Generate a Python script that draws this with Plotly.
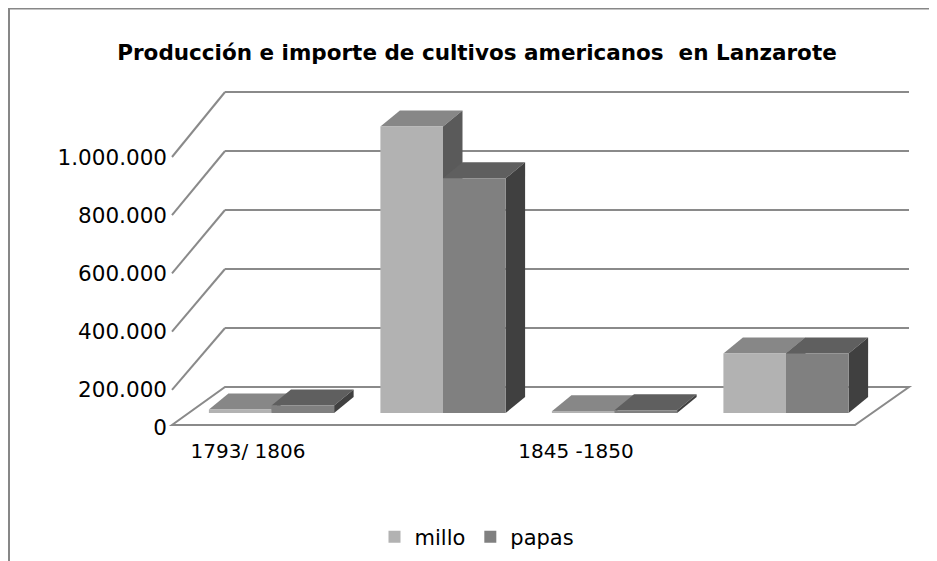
import plotly.graph_objects as go

# ---------------- data ----------------
categories = ["1793/ 1806", "", "1845 -1850", ""]
millo = [12000, 965000, 6000, 200000]
papas = [25000, 790000, 9000, 200000]
y_ticks = [0, 200000, 400000, 600000, 800000, 1000000]
title_text = "Producción e importe de cultivos americanos  en Lanzarote"

# ---------------- layout geometry (window pixels) ----------------
W, H = 937, 561
OFF = 8                                        # page body margin
XL, XR, YT, YB = 150, 930, 30, 470            # plot area
KX, X0PX = 171.5, 271.5                       # px per category, centre of cat 0
KY, Y0PX = 297e-6, 413                        # px per unit, baseline of bars
DX, DY = 19.5, 16                             # bar depth (px)
BACK_L, BACK_R, BACK_0, BACK_K = 225, 909, 387, 295e-6
FRONT_L, FRONT_R, FRONT_0 = 172, 855, 425
LBL_0, LBL_K = 448, 291e-6                    # left-edge label scale
BARW = 0.365

GRID = "#8a8a8a"
C_MILLO = ["#b2b2b2", "#878787", "#5a5a5a"]   # front, top, side
C_PAPAS = ["#808080", "#5f5f5f", "#404040"]
FONT = "DejaVu Sans"


def px_x(px):
    return (px - X0PX) / KX


def px_y(py):
    return (Y0PX - py) / KY


def fx(px):
    return (px - OFF) / W


def fy(py):
    return 1 - (py - OFF) / H


fig = go.Figure()
fig.add_trace(go.Bar(name="millo", x=list(range(len(categories))), y=millo,
                     marker=dict(color=C_MILLO[0], line=dict(width=0))))
fig.add_trace(go.Bar(name="papas", x=list(range(len(categories))), y=papas,
                     marker=dict(color=C_PAPAS[0], line=dict(width=0))))
fig.add_trace(go.Scatter(x=[None], y=[None], xaxis="x2", yaxis="y2",
                         showlegend=False, hoverinfo="skip"))

shapes = []
# floor
fl = [(FRONT_L, FRONT_0), (FRONT_R, FRONT_0), (BACK_R, BACK_0), (BACK_L, BACK_0)]
path = "M " + " L ".join(f"{px_x(a)},{px_y(b)}" for a, b in fl) + " Z"
shapes.append(dict(type="path", path=path, xref="x", yref="y", layer="below",
                   fillcolor="white", line=dict(color=GRID, width=2)))
# back wall gridlines + left wall lines
for v in y_ticks[1:]:
    yb = BACK_0 - BACK_K * v
    shapes.append(dict(type="line", xref="x", yref="y", layer="below",
                       x0=px_x(BACK_L), x1=px_x(BACK_R), y0=px_y(yb), y1=px_y(yb),
                       line=dict(color=GRID, width=2)))
    yf = LBL_0 - LBL_K * v
    shapes.append(dict(type="line", xref="x", yref="y", layer="below",
                       x0=px_x(FRONT_L), x1=px_x(BACK_L), y0=px_y(yf), y1=px_y(yb),
                       line=dict(color=GRID, width=2)))

# 3-D faces of bars
dxd, dyd = DX / KX, DY / KY
for i in range(len(categories)):
    for s, (vals, cols) in enumerate([(millo, C_MILLO), (papas, C_PAPAS)]):
        v = vals[i]
        left = i - BARW + s * BARW
        right = left + BARW
        top = (f"M {left},{v} L {right},{v} L {right + dxd},{v + dyd} "
               f"L {left + dxd},{v + dyd} Z")
        side = (f"M {right},0 L {right},{v} L {right + dxd},{v + dyd} "
                f"L {right + dxd},{dyd} Z")
        shapes.append(dict(type="path", path=top, xref="x", yref="y", layer="below",
                           fillcolor=cols[1], line=dict(width=0)))
        shapes.append(dict(type="path", path=side, xref="x", yref="y", layer="below",
                           fillcolor=cols[2], line=dict(width=0)))

# chart border (top and left edges visible)
shapes.append(dict(type="line", xref="paper", yref="paper", x0=1 / W, x1=1,
                   y0=1 - 0.5 / H, y1=1 - 0.5 / H, line=dict(color="#878787", width=2)))
shapes.append(dict(type="line", xref="paper", yref="paper", x0=1 / W, x1=1 / W,
                   y0=1, y1=0, line=dict(color="#878787", width=2)))

tick_pos = [(LBL_0 - (FRONT_0 + 2)) / LBL_K] + y_ticks[1:]
tick_txt = [f"{v:,}".replace(",", ".") for v in y_ticks]

fig.update_layout(
    width=W, height=H, margin=dict(l=0, r=0, t=0, b=0),
    paper_bgcolor="white", plot_bgcolor="rgba(0,0,0,0)",
    barmode="group", bargap=0.27, bargroupgap=0,
    shapes=shapes,
    font=dict(family=FONT, size=20, color="black"),
    title=dict(text=title_text, x=fx(477), y=fy(52), xanchor="center",
               yanchor="middle", font=dict(family=FONT, size=21.5, weight="bold")),
    xaxis=dict(domain=[fx(XL), fx(XR)], range=[px_x(XL), px_x(XR)],
               showgrid=False, zeroline=False, showticklabels=False, showline=False,
               fixedrange=True),
    yaxis=dict(domain=[fy(YB), fy(YT)], range=[px_y(YB), px_y(YT)],
               showgrid=False, zeroline=False, showticklabels=False, showline=False,
               fixedrange=True),
    xaxis2=dict(overlaying="x", anchor="free", position=fy(437),
                range=[(XL - 248) / 164, (XR - 248) / 164],
                tickvals=list(range(len(categories))), ticktext=categories,
                showgrid=False, zeroline=False, showline=False, ticks="",
                tickfont=dict(size=20)),
    yaxis2=dict(overlaying="y", anchor="free", position=fx(167),
                range=[(LBL_0 - YB) / LBL_K, (LBL_0 - YT) / LBL_K],
                tickvals=tick_pos, ticktext=tick_txt,
                showgrid=False, zeroline=False, showline=False, ticks="",
                tickfont=dict(size=21.5)),
    legend=dict(orientation="h", x=fx(477), xanchor="center", y=fy(537),
                yanchor="middle", font=dict(size=21), traceorder="normal",
                itemwidth=30),
)

fig.write_html("out.html")
